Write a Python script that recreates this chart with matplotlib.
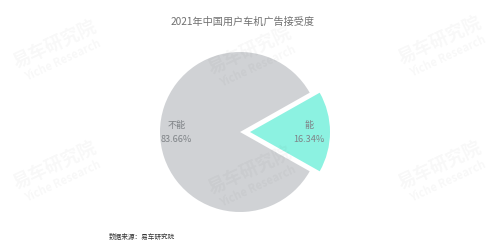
import matplotlib
matplotlib.use("Agg")
import matplotlib.pyplot as plt
import numpy as np

plt.rcParams['font.family'] = ['Noto Sans CJK SC', 'DejaVu Sans']

title = "2021年中国用户车机广告接受度"
categories = ["能", "不能"]
values = [16.34, 83.66]
colors = ["#8cf2e1", "#d0d2d5"]
explode = [10, 0.0]
source = "数据来源：易车研究院"

fig = plt.figure(figsize=(5, 2.46), dpi=100)
ax = fig.add_axes([0, 0, 1, 1])
ax.set_xlim(0, 500)
ax.set_ylim(0, 246)
ax.set_aspect('equal')
ax.axis('off')

# watermarks
for (wx, wy) in [(55, 196), (250, 190), (440, 200), (55, 75), (250, 70), (440, 75)]:
    ax.text(wx, wy + 5, "易车研究院", fontsize=13, fontweight='bold', color='#000000', alpha=0.03,
            rotation=25, ha='center', va='center')
    ax.text(wx + 8, wy - 10, "Yiche Research", fontsize=8, fontweight='bold', color='#000000', alpha=0.03,
            rotation=25, ha='center', va='center')

R = 80
cx, cy = 240, 114
start = -values[0] / 100 * 360 / 2
wedges, _ = ax.pie(values, colors=colors, explode=explode, startangle=start,
                   center=(cx, cy), radius=R, counterclock=True,
                   wedgeprops=dict(linewidth=0))
ax.set_xlim(0, 500)
ax.set_ylim(0, 246)

for w, cat, v, d in zip(wedges, categories, values, [0.74, 0.79]):
    mid = np.deg2rad((w.theta1 + w.theta2) / 2)
    ccx = w.center[0]
    ccy = w.center[1]
    tx = ccx + d * R * np.cos(mid)
    ty = ccy + d * R * np.sin(mid)
    ax.text(tx, ty + 7, cat, fontsize=6.6, color='#808488', ha='center', va='center')
    ax.text(tx, ty - 7, f"{v:.2f}%", fontsize=6.6, color='#808488', ha='center', va='center')

ax.text(243, 224, title, fontsize=7.3, color='#6f6f6f', ha='center', va='center')
ax.text(109, 9, source, fontsize=4.8, color='#333333', ha='left', va='center')

fig.savefig("out.png", dpi=100)
